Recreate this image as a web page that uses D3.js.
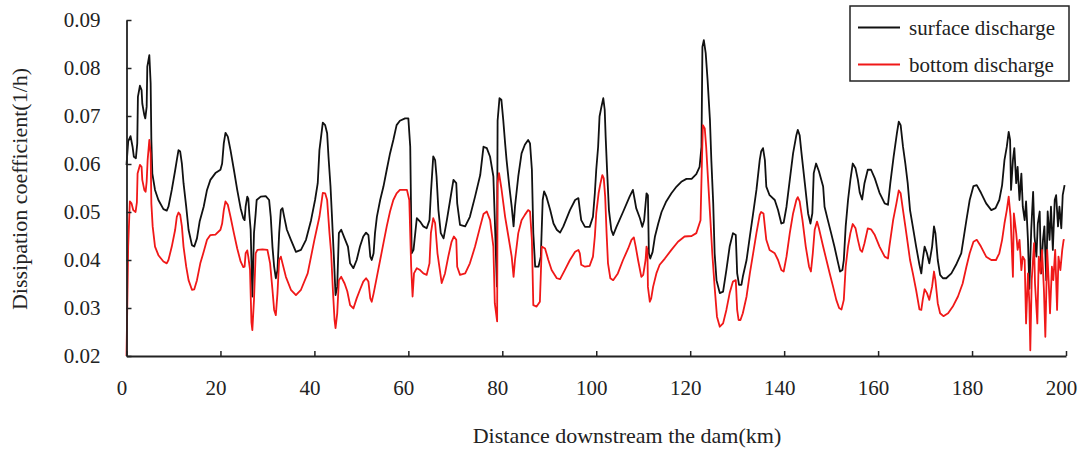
<!DOCTYPE html>
<html>
<head>
<meta charset="utf-8">
<script src="https://cdnjs.cloudflare.com/ajax/libs/d3/7.8.5/d3.min.js"></script>
<style>
  html, body { margin: 0; padding: 0; background: #fff; }
  #canvas text { font-family: "Liberation Serif", "Times New Roman", serif; fill: #222; }
</style>
</head>
<body>
<div id="canvas"></div>
<script>
'use strict';

// Distance downstream (km) / dissipation coefficient (1/h).
const surfaceDischarge = [
  [0, 0.0598], [0.36, 0.0647], [0.86, 0.0658], [1.29, 0.0636], [1.57, 0.0615],
  [2.0, 0.0612], [2.29, 0.0643], [2.43, 0.0740], [2.86, 0.0763], [3.21, 0.0754],
  [3.36, 0.0726], [3.79, 0.0702], [4.0, 0.0695], [4.29, 0.0719], [4.43, 0.0803],
  [4.86, 0.0827], [5.14, 0.0768], [5.29, 0.0650], [5.5, 0.0580], [6.07, 0.0546],
  [6.79, 0.0525], [7.86, 0.0506], [8.57, 0.0503], [8.93, 0.0511], [9.64, 0.0546],
  [10.36, 0.0587], [10.71, 0.0608], [11.07, 0.0629], [11.43, 0.0626], [11.79, 0.0601],
  [12.14, 0.0560], [12.71, 0.0511], [13.21, 0.0463], [13.93, 0.0431], [14.43, 0.0428],
  [15.0, 0.0445], [15.57, 0.0480], [16.43, 0.0511], [17.14, 0.0546], [17.86, 0.0567],
  [18.93, 0.0581], [20.0, 0.0588], [20.36, 0.0601], [20.71, 0.0643], [21.07, 0.0665],
  [21.57, 0.0657], [22.14, 0.0629], [22.86, 0.0588], [23.57, 0.0546], [24.29, 0.0508],
  [24.86, 0.0487], [25.14, 0.0483], [25.36, 0.0511], [25.71, 0.0532], [25.93, 0.0528],
  [26.14, 0.0497], [26.43, 0.0463], [26.79, 0.0324], [27.14, 0.0456], [27.5, 0.0497],
  [27.71, 0.0525], [28.57, 0.0532], [29.64, 0.0533], [30.36, 0.0525], [30.71, 0.0490],
  [31.07, 0.0428], [31.43, 0.0386], [31.79, 0.0362], [32.14, 0.0379], [32.5, 0.0456],
  [32.86, 0.0504], [33.21, 0.0508], [33.57, 0.0490], [34.14, 0.0463], [35.0, 0.0442],
  [36.07, 0.0417], [37.14, 0.0421], [38.21, 0.0442], [39.29, 0.0483], [40.14, 0.0525],
  [40.71, 0.0560], [41.07, 0.0629], [41.79, 0.0686], [42.29, 0.0681], [42.71, 0.0664],
  [43.0, 0.0615], [43.43, 0.0553], [43.71, 0.0497], [44.14, 0.0407], [44.5, 0.0327],
  [44.86, 0.0344], [45.21, 0.0456], [45.71, 0.0463], [46.43, 0.0445], [47.14, 0.0428],
  [47.6, 0.0393], [48.3, 0.0383], [49.0, 0.0400], [49.7, 0.0428], [50.4, 0.0449],
  [51.0, 0.0457], [51.5, 0.0452], [51.9, 0.0407], [52.2, 0.0400], [52.6, 0.0414],
  [52.9, 0.0456], [53.3, 0.0490], [54.0, 0.0525], [54.7, 0.0553], [55.4, 0.0588],
  [56.1, 0.0622], [56.8, 0.0650], [57.5, 0.0681], [58.2, 0.0690], [59.3, 0.0695],
  [60.0, 0.0695], [60.4, 0.0636], [60.7, 0.0414], [61.1, 0.0421], [61.8, 0.0487],
  [62.5, 0.0480], [63.2, 0.0470], [63.9, 0.0466], [64.5, 0.0483], [64.8, 0.0539],
  [65.3, 0.0616], [65.7, 0.0608], [66.0, 0.0574], [66.4, 0.0504], [66.9, 0.0456],
  [67.5, 0.0445], [68.2, 0.0483], [68.9, 0.0525], [69.6, 0.0567], [70.2, 0.0560],
  [70.4, 0.0518], [71.0, 0.0473], [72.1, 0.0470], [73.1, 0.0490], [74.2, 0.0532],
  [75.3, 0.0577], [76.0, 0.0636], [76.7, 0.0633], [77.4, 0.0615], [78.1, 0.0574],
  [78.5, 0.0456], [78.85, 0.0345], [79.0, 0.0690], [79.4, 0.0737], [79.8, 0.0734],
  [80.2, 0.0692], [80.6, 0.0643], [80.9, 0.0609], [81.5, 0.0553], [82.0, 0.0511],
  [82.4, 0.0470], [82.7, 0.0511], [83.4, 0.0574], [84.1, 0.0622], [84.8, 0.0640],
  [85.5, 0.0650], [85.9, 0.0643], [86.3, 0.0588], [86.6, 0.0456], [87.0, 0.0386],
  [87.7, 0.0386], [88.2, 0.0407], [88.6, 0.0525], [88.9, 0.0543], [89.4, 0.0532],
  [90.2, 0.0504], [90.9, 0.0476], [91.6, 0.0463], [92.3, 0.0457], [93.0, 0.0470],
  [94.4, 0.0504], [95.5, 0.0525], [96.2, 0.0529], [96.5, 0.0505], [96.8, 0.0483],
  [97.6, 0.0469], [98.6, 0.0469], [99.3, 0.0490], [99.7, 0.0539], [100.0, 0.0588],
  [100.4, 0.0636], [100.7, 0.0699], [101.1, 0.0719], [101.5, 0.0737], [101.8, 0.0713],
  [102.0, 0.0657], [102.3, 0.0588], [102.7, 0.0504], [103.2, 0.0463], [103.6, 0.0452],
  [104.3, 0.0469], [105.7, 0.0500], [107.1, 0.0532], [107.8, 0.0546], [108.2, 0.0525],
  [108.5, 0.0508], [109.3, 0.0487], [109.8, 0.0469], [110.2, 0.0483], [110.7, 0.0539],
  [111.0, 0.0535], [111.2, 0.0414], [111.5, 0.0403], [112.0, 0.0417], [112.5, 0.0449],
  [113.2, 0.0476], [113.9, 0.0500], [114.9, 0.0522], [116.0, 0.0539], [117.1, 0.0553],
  [118.1, 0.0563], [119.2, 0.0569], [120.3, 0.0569], [121.3, 0.0579], [122.0, 0.0594],
  [122.4, 0.0636], [122.6, 0.0844], [122.9, 0.0858], [123.3, 0.0831], [123.7, 0.0775],
  [124.2, 0.0692], [124.5, 0.0608], [124.9, 0.0518], [125.2, 0.0414], [125.6, 0.0358],
  [126.3, 0.0331], [127.0, 0.0334], [127.7, 0.0379], [128.4, 0.0428], [129.1, 0.0456],
  [129.7, 0.0452], [130.0, 0.0372], [130.4, 0.0348], [130.9, 0.0348], [131.2, 0.0365],
  [132.0, 0.0400], [132.7, 0.0449], [133.4, 0.0497], [134.1, 0.0546], [134.8, 0.0608],
  [135.1, 0.0626], [135.5, 0.0633], [135.9, 0.0608], [136.2, 0.0553], [136.9, 0.0535],
  [138.0, 0.0525], [138.7, 0.0504], [139.4, 0.0476], [139.9, 0.0478], [140.5, 0.0511],
  [141.2, 0.0567], [141.9, 0.0622], [142.6, 0.0660], [142.9, 0.0671], [143.3, 0.0660],
  [143.7, 0.0622], [144.4, 0.0560], [145.1, 0.0497], [145.6, 0.0476], [146.0, 0.0497],
  [146.3, 0.0581], [146.8, 0.0601], [147.4, 0.0585], [148.3, 0.0553], [148.6, 0.0511],
  [149.3, 0.0483], [150.0, 0.0456], [150.7, 0.0428], [151.5, 0.0393], [151.9, 0.0376],
  [152.4, 0.0379], [152.7, 0.0400], [153.1, 0.0470], [153.6, 0.0525], [154.1, 0.0567],
  [154.6, 0.0601], [155.2, 0.0591], [155.7, 0.0567], [156.1, 0.0540], [156.6, 0.0526],
  [157.1, 0.0560], [157.8, 0.0588], [158.5, 0.0588], [159.3, 0.0570], [160.3, 0.0540],
  [161.4, 0.0518], [162.1, 0.0515], [162.6, 0.0560], [163.3, 0.0615], [164.0, 0.0664],
  [164.4, 0.0688], [164.8, 0.0681], [165.3, 0.0636], [165.8, 0.0601], [166.3, 0.0560],
  [166.8, 0.0504], [167.4, 0.0469], [168.1, 0.0428], [168.8, 0.0390], [169.2, 0.0372],
  [169.5, 0.0400], [169.9, 0.0428], [170.4, 0.0414], [170.9, 0.0393], [171.5, 0.0428],
  [171.9, 0.0470], [172.2, 0.0456], [172.7, 0.0400], [173.2, 0.0369], [173.8, 0.0362],
  [174.5, 0.0362], [175.6, 0.0372], [176.6, 0.0390], [177.7, 0.0414], [178.8, 0.0483],
  [179.5, 0.0525], [180.3, 0.0554], [181.0, 0.0556], [181.9, 0.0540], [183.0, 0.0518],
  [184.1, 0.0504], [185.0, 0.0508], [185.8, 0.0525], [186.4, 0.0556], [186.9, 0.0608],
  [187.4, 0.0636], [187.8, 0.0667], [188.1, 0.0650], [188.3, 0.0546], [188.7, 0.0608],
  [189.0, 0.0633], [189.4, 0.0560], [189.7, 0.0594], [190.1, 0.0525], [190.5, 0.0580],
  [190.8, 0.0511], [191.2, 0.0483], [191.5, 0.0522], [191.9, 0.0442], [192.2, 0.0340],
  [192.6, 0.0463], [193.0, 0.0542], [193.3, 0.0449], [193.7, 0.0407], [194.0, 0.0476],
  [194.4, 0.0501], [194.7, 0.0372], [195.1, 0.0442], [195.4, 0.0470], [195.8, 0.0358],
  [196.1, 0.0501], [196.5, 0.0442], [196.8, 0.0511], [197.2, 0.0421], [197.6, 0.0525],
  [197.9, 0.0535], [198.3, 0.0470], [198.6, 0.0511], [199.0, 0.0466], [199.3, 0.0535],
  [199.7, 0.0556],
];

const bottomDischarge = [
  [0, 0.0200], [0.36, 0.0428], [0.71, 0.0522], [1.07, 0.0518], [1.43, 0.0504],
  [1.93, 0.0500], [2.21, 0.0520], [2.36, 0.0580], [2.86, 0.0598], [3.21, 0.0594],
  [3.36, 0.0567], [3.79, 0.0546], [4.07, 0.0542], [4.29, 0.0563], [4.5, 0.0608],
  [4.86, 0.0650], [5.14, 0.0622], [5.29, 0.0518], [5.57, 0.0470], [6.07, 0.0428],
  [6.79, 0.0410], [7.86, 0.0397], [8.57, 0.0393], [8.93, 0.0400], [9.64, 0.0428],
  [10.36, 0.0463], [10.71, 0.0490], [11.07, 0.0499], [11.43, 0.0494], [11.79, 0.0470],
  [12.14, 0.0428], [12.71, 0.0386], [13.21, 0.0358], [13.93, 0.0338], [14.43, 0.0339],
  [15.0, 0.0358], [15.71, 0.0393], [16.43, 0.0417], [17.14, 0.0442], [17.86, 0.0452],
  [18.93, 0.0453], [20.0, 0.0463], [20.36, 0.0476], [20.71, 0.0504], [21.07, 0.0522],
  [21.57, 0.0515], [22.14, 0.0490], [22.86, 0.0456], [23.57, 0.0424], [24.29, 0.0397],
  [24.86, 0.0385], [25.14, 0.0386], [25.36, 0.0414], [25.71, 0.0420], [25.93, 0.0407],
  [26.29, 0.0380], [26.6, 0.0270], [26.79, 0.0254], [27.14, 0.0317], [27.5, 0.0414],
  [27.86, 0.0421], [28.93, 0.0422], [30.0, 0.0421], [30.57, 0.0393], [31.07, 0.0338],
  [31.43, 0.0296], [31.79, 0.0285], [32.14, 0.0331], [32.5, 0.0400], [32.86, 0.0407],
  [33.21, 0.0393], [33.93, 0.0365], [35.0, 0.0338], [36.07, 0.0327], [37.14, 0.0338],
  [38.57, 0.0372], [40.0, 0.0442], [41.07, 0.0490], [41.79, 0.0540], [42.29, 0.0539],
  [42.71, 0.0525], [43.21, 0.0456], [43.57, 0.0414], [43.93, 0.0338], [44.29, 0.0275],
  [44.5, 0.0258], [44.86, 0.0289], [45.21, 0.0358], [45.71, 0.0365], [46.43, 0.0351],
  [47.0, 0.0335], [47.6, 0.0306], [48.3, 0.0299], [49.0, 0.0320], [49.7, 0.0338],
  [50.4, 0.0355], [51.0, 0.0362], [51.5, 0.0355], [51.9, 0.0320], [52.2, 0.0313],
  [52.6, 0.0330], [53.3, 0.0365], [54.0, 0.0400], [54.7, 0.0435], [55.4, 0.0470],
  [56.1, 0.0501], [56.8, 0.0525], [57.5, 0.0539], [58.2, 0.0546], [59.7, 0.0546],
  [60.2, 0.0525], [60.6, 0.0386], [60.9, 0.0324], [61.2, 0.0372], [61.8, 0.0383],
  [62.5, 0.0379], [63.2, 0.0372], [63.9, 0.0369], [64.5, 0.0393], [64.8, 0.0456],
  [65.3, 0.0487], [65.7, 0.0477], [66.2, 0.0414], [66.6, 0.0386], [67.1, 0.0352],
  [67.8, 0.0372], [68.5, 0.0407], [69.2, 0.0438], [69.7, 0.0449], [70.2, 0.0442],
  [70.4, 0.0386], [71.0, 0.0369], [72.1, 0.0372], [73.1, 0.0393], [74.2, 0.0428],
  [75.3, 0.0470], [76.0, 0.0496], [76.7, 0.0501], [77.4, 0.0483], [78.1, 0.0428],
  [78.4, 0.0310], [78.9, 0.0272], [79.0, 0.0560], [79.3, 0.0581], [79.8, 0.0550],
  [80.6, 0.0490], [81.3, 0.0449], [82.0, 0.0407], [82.4, 0.0365], [82.7, 0.0400],
  [83.4, 0.0456], [84.1, 0.0483], [84.8, 0.0494], [85.5, 0.0504], [85.9, 0.0501],
  [86.3, 0.0442], [86.6, 0.0306], [87.3, 0.0303], [88.0, 0.0313], [88.4, 0.0428],
  [89.1, 0.0424], [89.8, 0.0400], [90.5, 0.0379], [91.6, 0.0362], [92.3, 0.0360],
  [93.3, 0.0379], [94.4, 0.0400], [95.5, 0.0417], [96.2, 0.0421], [96.5, 0.0414],
  [96.8, 0.0390], [97.6, 0.0386], [98.6, 0.0388], [99.3, 0.0407], [99.7, 0.0449],
  [100.0, 0.0497], [100.5, 0.0539], [100.9, 0.0560], [101.3, 0.0577], [101.6, 0.0570],
  [101.9, 0.0532], [102.2, 0.0456], [102.5, 0.0393], [103.0, 0.0362], [103.6, 0.0358],
  [104.6, 0.0372], [105.7, 0.0400], [106.8, 0.0424], [107.5, 0.0442], [108.0, 0.0447],
  [108.4, 0.0428], [108.9, 0.0400], [109.6, 0.0365], [110.0, 0.0369], [110.5, 0.0400],
  [110.7, 0.0428], [110.9, 0.0421], [111.0, 0.0344], [111.4, 0.0313], [111.7, 0.0320],
  [112.1, 0.0344], [112.8, 0.0372], [113.5, 0.0390], [114.6, 0.0403], [116.0, 0.0421],
  [117.4, 0.0438], [118.8, 0.0449], [120.3, 0.0450], [121.3, 0.0456], [122.2, 0.0483],
  [122.5, 0.0608], [122.7, 0.0681], [123.1, 0.0674], [123.4, 0.0636], [123.8, 0.0567],
  [124.3, 0.0483], [124.7, 0.0414], [125.2, 0.0344], [125.7, 0.0282], [126.3, 0.0261],
  [127.0, 0.0268], [127.7, 0.0296], [128.4, 0.0331], [129.1, 0.0355], [129.7, 0.0358],
  [130.0, 0.0296], [130.3, 0.0275], [130.7, 0.0275], [131.2, 0.0289], [132.0, 0.0324],
  [132.7, 0.0372], [133.4, 0.0414], [134.1, 0.0456], [134.8, 0.0494], [135.1, 0.0500],
  [135.6, 0.0497], [135.9, 0.0469], [136.2, 0.0442], [136.9, 0.0421], [138.0, 0.0414],
  [138.7, 0.0400], [139.4, 0.0379], [139.9, 0.0376], [140.5, 0.0407], [141.2, 0.0456],
  [141.9, 0.0497], [142.6, 0.0525], [142.9, 0.0531], [143.3, 0.0522], [143.9, 0.0483],
  [144.6, 0.0428], [145.3, 0.0386], [145.7, 0.0376], [146.1, 0.0414], [146.5, 0.0463],
  [147.0, 0.0480], [147.4, 0.0466], [148.3, 0.0428], [149.0, 0.0400], [149.7, 0.0372],
  [150.4, 0.0345], [151.1, 0.0317], [151.7, 0.0300], [152.2, 0.0297], [152.7, 0.0317],
  [153.1, 0.0386], [153.6, 0.0428], [154.1, 0.0456], [154.6, 0.0475], [155.2, 0.0466],
  [155.7, 0.0442], [156.2, 0.0421], [156.6, 0.0417], [157.1, 0.0435], [157.8, 0.0466],
  [158.5, 0.0464], [159.3, 0.0452], [160.3, 0.0428], [161.4, 0.0407], [162.1, 0.0403],
  [162.4, 0.0428], [163.2, 0.0483], [163.9, 0.0518], [164.4, 0.0545], [164.8, 0.0539],
  [165.3, 0.0504], [165.8, 0.0470], [166.3, 0.0435], [166.8, 0.0400], [167.4, 0.0372],
  [168.1, 0.0337], [168.8, 0.0297], [169.2, 0.0296], [169.5, 0.0317], [169.9, 0.0339],
  [170.4, 0.0331], [170.9, 0.0317], [171.5, 0.0345], [171.9, 0.0376], [172.2, 0.0358],
  [172.7, 0.0310], [173.2, 0.0289], [173.9, 0.0283], [174.9, 0.0289], [175.9, 0.0303],
  [177.0, 0.0324], [178.0, 0.0351], [178.8, 0.0386], [179.5, 0.0414], [180.3, 0.0438],
  [181.0, 0.0442], [181.9, 0.0428], [183.0, 0.0407], [184.1, 0.0400], [185.1, 0.0400],
  [185.8, 0.0414], [186.4, 0.0442], [186.9, 0.0476], [187.4, 0.0504], [187.8, 0.0532],
  [188.2, 0.0490], [188.7, 0.0365], [188.9, 0.0497], [189.4, 0.0456], [189.7, 0.0421],
  [190.1, 0.0442], [190.5, 0.0379], [190.8, 0.0407], [191.2, 0.0400], [191.5, 0.0268],
  [191.9, 0.0372], [192.2, 0.0310], [192.4, 0.0212], [192.7, 0.0358], [193.2, 0.0435],
  [193.4, 0.0351], [193.9, 0.0268], [194.2, 0.0407], [194.6, 0.0372], [194.9, 0.0421],
  [195.3, 0.0338], [195.6, 0.0240], [196.0, 0.0421], [196.3, 0.0358], [196.6, 0.0289],
  [197.0, 0.0386], [197.3, 0.0358], [197.7, 0.0421], [198.1, 0.0296], [198.4, 0.0407],
  [198.8, 0.0379], [199.2, 0.0421], [199.5, 0.0442], [199.7, 0.0442],
];

const xTicks = [0, 20, 40, 60, 80, 100, 120, 140, 160, 180, 200];
const yTicks = [0.02, 0.03, 0.04, 0.05, 0.06, 0.07, 0.08, 0.09];
const seriesNames = ['surface discharge', 'bottom discharge'];
const seriesColors = ['#111111', '#f01818'];

/**
 * Draws the two dissipation coefficient profiles.
 */
class ProfilePlotter {
  constructor() {
    this.width_ = 1083;
    this.height_ = 450;
    // Plot area in page pixels.
    this.left_ = 126.5;
    this.right_ = 1066;
    this.top_ = 20;
    this.bottom_ = 356;
    this.svg_ = d3.select('#canvas').append('svg')
        .attr('width', this.width_)
        .attr('height', this.height_);
    this.x_ = d3.scaleLinear().domain([0, 200]).range([this.left_, this.right_]);
    this.y_ = d3.scaleLinear().domain([0.02, 0.09])
        .range([this.bottom_, this.top_]);
  }

  draw() {
    this.drawLines_();
    this.drawAxes_();
    this.drawTitles_();
    this.drawLegend_();
  }

  drawLines_() {
    const line = d3.line()
        .x(d => this.x_(d[0]))
        .y(d => this.y_(d[1]));
    [surfaceDischarge, bottomDischarge].forEach((data, i) => {
      this.svg_.append('path')
          .datum(data)
          .attr('d', line)
          .attr('fill', 'none')
          .attr('stroke', seriesColors[i])
          .attr('stroke-width', 1.8)
          .attr('stroke-linejoin', 'round');
    });
  }

  drawAxes_() {
    // Ticks point into the plot, as in the original figure.
    const xAxis = d3.axisBottom(this.x_)
        .tickValues(xTicks)
        .tickFormat(d3.format('d'))
        .tickSizeInner(-5)
        .tickSizeOuter(0)
        .tickPadding(24);
    const yAxis = d3.axisLeft(this.y_)
        .tickValues(yTicks)
        .tickFormat(d3.format('.2f'))
        .tickSizeInner(-5)
        .tickSizeOuter(0)
        .tickPadding(26);

    const gx = this.svg_.append('g')
        .attr('transform', `translate(0, ${this.bottom_})`)
        .call(xAxis);
    gx.selectAll('text').attr('dx', -5);

    const gy = this.svg_.append('g')
        .attr('transform', `translate(${this.left_}, 0)`)
        .call(yAxis);

    [gx, gy].forEach(g => {
      g.select('.domain').attr('stroke', '#222').attr('stroke-width', 1.8);
      g.selectAll('.tick line').attr('stroke', '#222').attr('stroke-width', 1.5);
      g.selectAll('text')
          .attr('font-size', 21)
          .attr('font-family', '"Liberation Serif", "Times New Roman", serif')
          .attr('fill', '#222');
    });
  }

  drawTitles_() {
    this.svg_.append('text')
        .attr('x', 627)
        .attr('y', 443)
        .attr('text-anchor', 'middle')
        .attr('font-size', 22)
        .text('Distance downstream the dam(km)');

    this.svg_.append('text')
        .attr('transform', 'translate(27, 189) rotate(-90)')
        .attr('text-anchor', 'middle')
        .attr('font-size', 22)
        .text('Dissipation coefficient(1/h)');
  }

  drawLegend_() {
    const legend = this.svg_.append('g')
        .attr('transform', 'translate(850, 6)');
    legend.append('rect')
        .attr('width', 219)
        .attr('height', 75)
        .attr('fill', '#fff')
        .attr('stroke', '#222')
        .attr('stroke-width', 1.5);
    seriesNames.forEach((name, i) => {
      const rowY = 21.5 + i * 37;
      legend.append('line')
          .attr('x1', 8)
          .attr('x2', 50)
          .attr('y1', rowY)
          .attr('y2', rowY)
          .attr('stroke', seriesColors[i])
          .attr('stroke-width', 1.8);
      legend.append('text')
          .attr('x', 59)
          .attr('y', rowY + 7)
          .attr('font-size', 21)
          .text(name);
    });
  }
}

new ProfilePlotter().draw();
</script>
</body>
</html>
